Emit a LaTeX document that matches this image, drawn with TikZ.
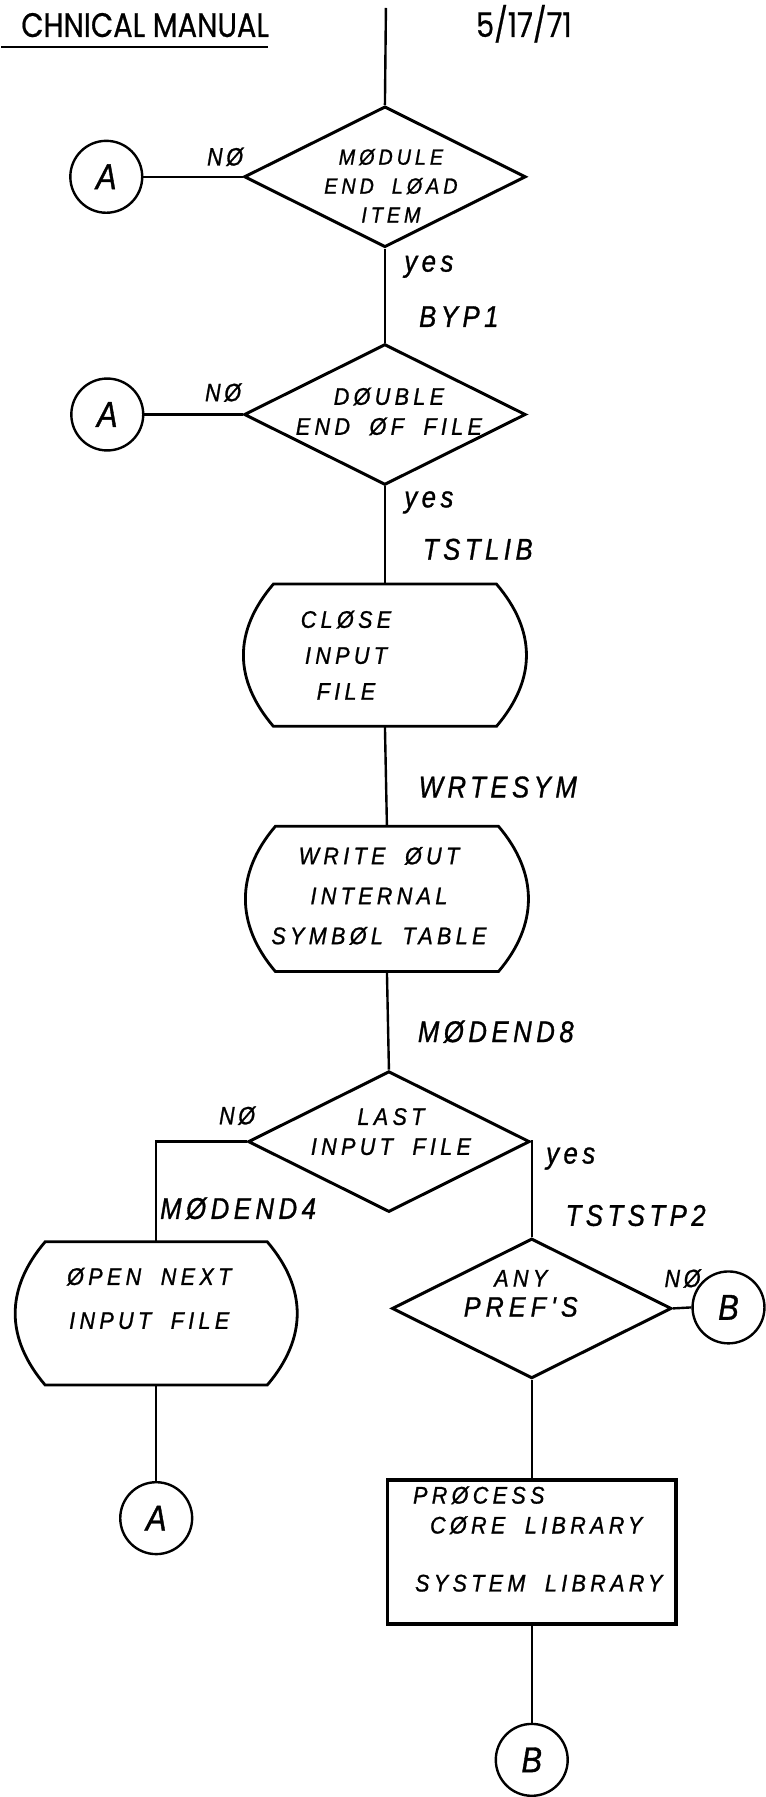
\documentclass[tikz,border=0pt]{standalone}
\usepackage{fontspec}
\usetikzlibrary{shapes.geometric}
\newfontfamily\manualfont[FakeStretch=0.85, FakeBold=0.6]{Poppins}
\newfontfamily\handfont[LetterSpace=15, FakeStretch=0.86, FakeBold=1]{Liberation Sans}
\newfontfamily\boxfont[LetterSpace=18, WordSpace=1.9, FakeStretch=0.9, FakeBold=1]{Liberation Sans}
\newcommand{\drawbarrel}[1]{%
  \draw[line width=2.8pt] (#1.north west) -- (#1.north east)
    .. controls +(40,47) and +(40,-47) .. (#1.south east)
    -- (#1.south west)
    .. controls +(-40,-47) and +(-40,47) .. (#1.north west) -- cycle;}

\begin{document}
\begin{tikzpicture}[x=1pt, y=-1pt, every node/.style={inner sep=0pt},
  flow/.style={line width=2.4pt},
  head/.style={font=\manualfont\fontsize{34}{34}\selectfont},
  decision/.style={draw, diamond, line width=3pt, minimum width=282pt,
    minimum height=141pt},
  barrel/.style={minimum width=223pt, minimum height=142pt},
  offpage/.style={draw, circle, line width=2.4pt, minimum size=72pt,
    font=\handfont\itshape\fontsize{36}{36}\selectfont},
  inside/.style={align=center, font=\boxfont\itshape\fontsize{24}{30}\selectfont},
  tag/.style={font=\handfont\itshape\fontsize{30}{30}\selectfont}]
  \fill[white] (0,0) rectangle (764,1797);

  % page header
  \node[head, anchor=base east] (manual) at (268,37) {CHNICAL MANUAL};
  \draw[line width=2.8pt] (0,47) -- (267,47);
  \node[head, anchor=base west] (date) at (475,37) {5/17/71};

  % module end tests
  \coordinate (top) at (385,8);
  \node[decision] (d1) at (384,177) {};
  \node[inside, font=\boxfont\itshape\fontsize{22}{29}\selectfont]
    (t1) at (390,186) {MØDULE\\END LØAD\\ITEM};
  \node[offpage] (ca1) at (105,177) {A};
  \node[tag, font=\handfont\itshape\fontsize{25}{25}\selectfont] (n1) at (224,157) {NØ};
  \node[tag] (y1) at (428,267) {yes};
  \node[tag] (l1) at (458,317) {BYP1};

  \node[decision] (d2) at (384,415) {};
  \node[inside] (t2) at (388,412) {DØUBLE\\END ØF FILE};
  \node[offpage] (ca2) at (106,415) {A};
  \node[tag, font=\handfont\itshape\fontsize{25}{25}\selectfont] (n2) at (222,393) {NØ};
  \node[tag] (y2) at (428,503) {yes};
  \node[tag] (l2) at (477,550) {TSTLIB};

  % close and write out
  \node[barrel] (b1) at (384,656) {};
  \drawbarrel{b1}
  \node[inside, font=\boxfont\itshape\fontsize{24}{36}\selectfont]
    (t3) at (345,656) {CLØSE\\INPUT\\FILE};
  \node[tag] (l3) at (497,788) {WRTESYM};

  \node[barrel, minimum height=145pt] (b2) at (386,900) {};
  \drawbarrel{b2}
  \node[inside, font=\boxfont\itshape\fontsize{24}{40}\selectfont]
    (t4) at (378,897) {WRITE ØUT\\INTERNAL\\SYMBØL TABLE};
  \node[tag] (l4) at (495,1033) {MØDEND8};

  % last file test
  \node[decision] (d3) at (388,1143) {};
  \node[inside] (t5) at (390,1133) {LAST\\INPUT FILE};
  \node[tag, font=\handfont\itshape\fontsize{25}{25}\selectfont] (n3) at (236,1117) {NØ};
  \node[tag] (y3) at (570,1160) {yes};
  \node[tag] (l5) at (237,1210) {MØDEND4};
  \node[tag] (l6) at (635,1217) {TSTSTP2};

  \node[barrel, minimum height=143pt, minimum width=222pt] (b3) at (155,1315) {};
  \drawbarrel{b3}
  \node[inside, font=\boxfont\itshape\fontsize{24}{44}\selectfont]
    (t6) at (148,1300) {ØPEN NEXT\\INPUT FILE};
  \node[offpage] (ca3) at (155,1520) {A};

  % prefix test
  \node[decision, minimum width=280pt, minimum height=140pt] (d4) at (531,1310) {};
  \node[inside] (t7) at (520,1295) {ANY\\{\fontsize{28}{28}\selectfont PREF'S}};
  \node[tag, font=\handfont\itshape\fontsize{25}{25}\selectfont] (n4) at (682,1280) {NØ};
  \node[offpage] (cb1) at (728,1309) {B};

  \node[draw, line width=3.6pt, minimum width=289pt, minimum height=144pt]
    (p1) at (531,1554) {};
  \node[inside, align=left, anchor=north west] (t8) at (412,1488)
    {PRØCESS\\\hspace*{17pt}CØRE LIBRARY\\[28pt]\hspace*{2pt}SYSTEM LIBRARY};
  \node[offpage] (cb2) at (531,1762) {B};

  % connectors
  \draw[flow] (top) -- (d1.north);
  \draw[flow] (d1.west) -- (ca1.east);
  \draw[flow] (d1.south) -- (d2.north);
  \draw[flow] (d2.west) -- (ca2.east);
  \draw[flow] (d2.south) -- (b1.north);
  \draw[flow] (b1.south) -- (b2.north);
  \draw[flow] (b2.south) -- (d3.north);
  \draw[flow] (d3.west) -| (b3.north);
  \draw[flow] (d3.east) -| (d4.north);
  \draw[flow] (b3.south) -- (ca3.north);
  \draw[flow] (d4.east) -- (cb1.west);
  \draw[flow] (d4.south) -- (p1.north);
  \draw[flow] (p1.south) -- (cb2.north);
\end{tikzpicture}
\end{document}
